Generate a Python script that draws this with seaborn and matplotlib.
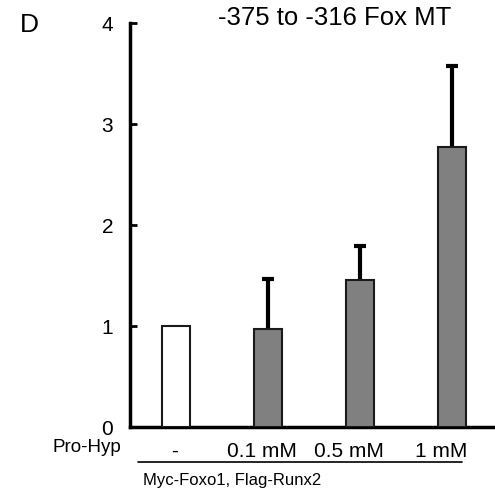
import matplotlib
matplotlib.use("Agg")
import matplotlib.pyplot as plt
import seaborn as sns
import pandas as pd
import numpy as np

categories = ["-", "0.1 mM", "0.5 mM", "1 mM"]
values = [1.0, 0.97, 1.46, 2.77]
errors = [0.0, 0.50, 0.33, 0.80]
groups = ["ctrl", "treat", "treat", "treat"]
yticks = [0, 1, 2, 3, 4]

sns.set_style("white")
plt.rcParams["font.family"] = ["Liberation Sans", "DejaVu Sans"]
plt.rcParams["text.color"] = "black"
plt.rcParams["ytick.color"] = "black"
plt.rcParams["ytick.labelcolor"] = "black"

df = pd.DataFrame({"cat": categories, "val": values, "grp": groups})

fig = plt.figure(figsize=(4.95, 4.97), dpi=100)
ax = fig.add_axes([0.2626, 0.1408, 0.7374, 0.8129])

sns.barplot(data=df, x="cat", y="val", hue="grp", order=categories,
            palette={"ctrl": "white", "treat": "#808080"}, dodge=False,
            width=0.31, edgecolor="#1a1a1a", linewidth=1.5, legend=False, ax=ax)
for p in ax.patches:
    p.set_zorder(3)

x = np.arange(len(categories))
err_x = [xi for xi, e in zip(x, errors) if e > 0]
err_v = [v for v, e in zip(values, errors) if e > 0]
err_e = [e for e in errors if e > 0]
_, caps, _ = ax.errorbar(err_x, err_v, yerr=[np.zeros(len(err_e)), err_e], fmt="none",
                         ecolor="black", elinewidth=3, capsize=4, capthick=3, zorder=2)
caps[0].set_visible(False)

ax.set_xlim(-0.5, 3.47)
ax.set_ylim(0, 4)
ax.set_yticks(yticks)
ax.set_yticklabels([str(t) for t in yticks], fontsize=15, color="black")
ax.tick_params(axis="y", direction="in", length=5, width=2, pad=12, left=True, colors="black")
ax.set_xticks([])
ax.set_xlabel("")
ax.set_ylabel("")
for s in ["top", "right"]:
    ax.spines[s].set_visible(False)
for s in ["left", "bottom"]:
    ax.spines[s].set_linewidth(2.5)
    ax.spines[s].set_color("black")

# category labels below the axis (slightly left of bar centres, as in the original)
label_shift = [-0.01, -0.065, -0.12, -0.12]
for xi, lab, sh in zip(x, categories, label_shift):
    ax.text(xi + sh, -0.24, lab, ha="center", va="center", fontsize=15, color="black",
            transform=ax.transData, clip_on=False)

fig.text(53 / 495, 1 - 447 / 497, "Pro-Hyp", ha="left", va="center", fontsize=13.5, color="black")
fig.add_artist(plt.Line2D([138 / 495, 462 / 495], [1 - 462 / 497, 1 - 462 / 497],
                          color="black", linewidth=1.2))
fig.text(143 / 495, 1 - 481 / 497, "Myc-Foxo1, Flag-Runx2", ha="left", va="center",
         fontsize=12, color="black")
fig.text(20 / 495, 1 - 25 / 497, "D", ha="left", va="center", fontsize=19, color="black")
fig.text(218 / 495, 1 - 18 / 497, "-375 to -316 Fox MT", ha="left", va="center",
         fontsize=18.5, color="black")

fig.savefig("out.png", dpi=100)
